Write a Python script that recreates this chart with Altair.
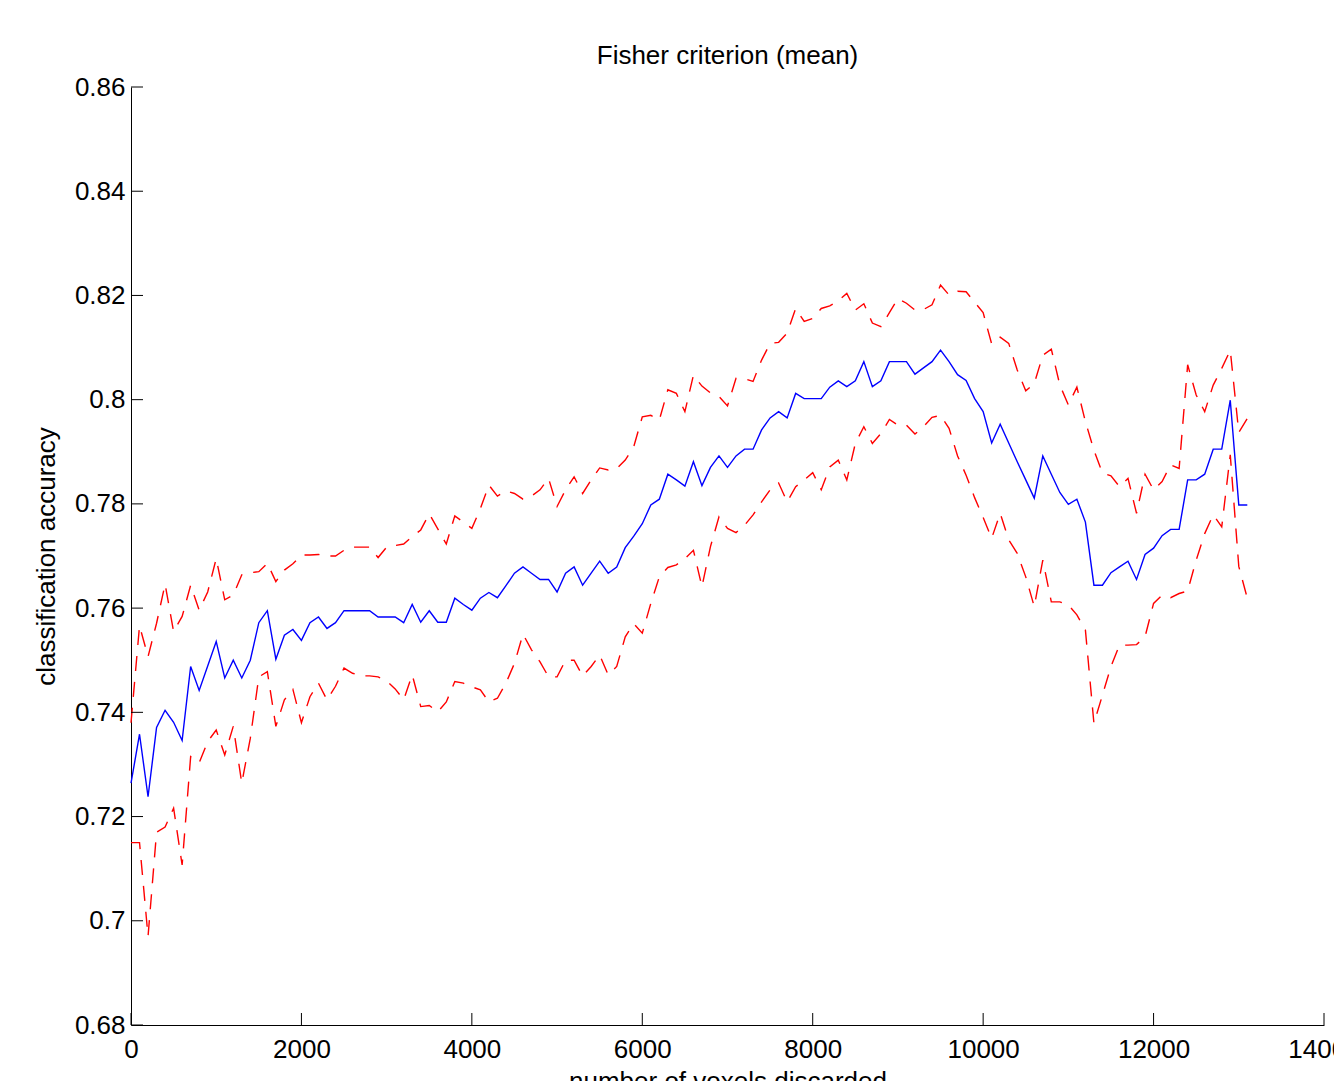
import altair as alt
import pandas as pd

# number of voxels discarded (sampling grid)
voxels = [
    0, 100, 200, 300, 400, 500, 600, 700, 800, 900,
    1000, 1100, 1200, 1300, 1400, 1500, 1600, 1700, 1800, 1900,
    2000, 2100, 2200, 2300, 2400, 2500, 2600, 2700, 2800, 2900,
    3000, 3100, 3200, 3300, 3400, 3500, 3600, 3700, 3800, 3900,
    4000, 4100, 4200, 4300, 4400, 4500, 4600, 4700, 4800, 4900,
    5000, 5100, 5200, 5300, 5400, 5500, 5600, 5700, 5800, 5900,
    6000, 6100, 6200, 6300, 6400, 6500, 6600, 6700, 6800, 6900,
    7000, 7100, 7200, 7300, 7400, 7500, 7600, 7700, 7800, 7900,
    8000, 8100, 8200, 8300, 8400, 8500, 8600, 8700, 8800, 8900,
    9000, 9100, 9200, 9300, 9400, 9500, 9600, 9700, 9800, 9900,
    10000, 10100, 10200, 10300, 10400, 10500, 10600, 10700, 10800, 10900,
    11000, 11100, 11200, 11300, 11400, 11500, 11600, 11700, 11800, 11900,
    12000, 12100, 12200, 12300, 12400, 12500, 12600, 12700, 12800, 12900,
    13000, 13100,
]

mean_acc = [
    0.7264, 0.7358, 0.7238, 0.7371, 0.7404, 0.7381, 0.7346, 0.7488, 0.7442, 0.7489,
    0.7536, 0.7466, 0.7500, 0.7466, 0.7500, 0.7572, 0.7595, 0.7502, 0.7548, 0.7559,
    0.7538, 0.7572, 0.7583, 0.7561, 0.7572, 0.7595, 0.7595, 0.7595, 0.7595, 0.7583,
    0.7583, 0.7583, 0.7572, 0.7607, 0.7573, 0.7595, 0.7573, 0.7573, 0.7619, 0.7607,
    0.7596, 0.7619, 0.7630, 0.7620, 0.7643, 0.7667, 0.7679, 0.7667, 0.7655, 0.7655,
    0.7631, 0.7667, 0.7679, 0.7644, 0.7667, 0.7690, 0.7667, 0.7679, 0.7716, 0.7738,
    0.7762, 0.7798, 0.7809, 0.7857, 0.7846, 0.7834, 0.7881, 0.7835, 0.7870, 0.7892,
    0.7870, 0.7892, 0.7905, 0.7905, 0.7942, 0.7965, 0.7977, 0.7965, 0.8012, 0.8002,
    0.8002, 0.8002, 0.8024, 0.8036, 0.8025, 0.8036, 0.8073, 0.8025, 0.8036, 0.8073,
    0.8073, 0.8073, 0.8049, 0.8061, 0.8073, 0.8095, 0.8073, 0.8048, 0.8037, 0.8002,
    0.7977, 0.7917, 0.7953, 0.7917, 0.7881, 0.7846, 0.7811, 0.7892, 0.7857, 0.7822,
    0.7799, 0.7809, 0.7765, 0.7644, 0.7644, 0.7668, 0.7679, 0.7690, 0.7655, 0.7703,
    0.7715, 0.7739, 0.7751, 0.7751, 0.7846, 0.7846, 0.7857, 0.7905, 0.7905, 0.7999,
    0.7798, 0.7798,
]

upper_acc = [
    0.7380, 0.7566, 0.7507, 0.7571, 0.7646, 0.7555, 0.7584, 0.7644, 0.7596, 0.7631,
    0.7695, 0.7616, 0.7625, 0.7664, 0.7668, 0.7670, 0.7686, 0.7651, 0.7673, 0.7685,
    0.7702, 0.7702, 0.7703, 0.7700, 0.7700, 0.7711, 0.7717, 0.7717, 0.7717, 0.7697,
    0.7717, 0.7720, 0.7723, 0.7737, 0.7750, 0.7781, 0.7752, 0.7723, 0.7777, 0.7765,
    0.7753, 0.7791, 0.7836, 0.7815, 0.7825, 0.7820, 0.7809, 0.7815, 0.7827, 0.7849,
    0.7795, 0.7827, 0.7852, 0.7820, 0.7846, 0.7869, 0.7865, 0.7868, 0.7884, 0.7910,
    0.7967, 0.7970, 0.7961, 0.8019, 0.8012, 0.7977, 0.8047, 0.8026, 0.8013, 0.8006,
    0.7988, 0.8041, 0.8040, 0.8035, 0.8076, 0.8108, 0.8110, 0.8128, 0.8175, 0.8150,
    0.8156, 0.8175, 0.8180, 0.8190, 0.8204, 0.8172, 0.8184, 0.8147, 0.8140, 0.8167,
    0.8194, 0.8185, 0.8172, 0.8173, 0.8182, 0.8220, 0.8201, 0.8208, 0.8207, 0.8187,
    0.8167, 0.8107, 0.8120, 0.8108, 0.8057, 0.8017, 0.8031, 0.8085, 0.8097, 0.8028,
    0.7990, 0.8024, 0.7958, 0.7903, 0.7859, 0.7854, 0.7833, 0.7849, 0.7782, 0.7857,
    0.7827, 0.7843, 0.7875, 0.7868, 0.8067, 0.8009, 0.7977, 0.8028, 0.8060, 0.8095,
    0.7937, 0.7964,
]

lower_acc = [
    0.7150, 0.7150, 0.6970, 0.7170, 0.7180, 0.7216, 0.7107, 0.7315, 0.7303, 0.7344,
    0.7366, 0.7318, 0.7373, 0.7264, 0.7350, 0.7468, 0.7478, 0.7373, 0.7424, 0.7444,
    0.7380, 0.7430, 0.7456, 0.7424, 0.7450, 0.7485, 0.7475, 0.7470, 0.7470, 0.7468,
    0.7460, 0.7445, 0.7424, 0.7472, 0.7411, 0.7413, 0.7401, 0.7420, 0.7459, 0.7456,
    0.7449, 0.7443, 0.7420, 0.7427, 0.7456, 0.7494, 0.7550, 0.7520, 0.7497, 0.7468,
    0.7468, 0.7500, 0.7500, 0.7470, 0.7488, 0.7510, 0.7472, 0.7488, 0.7545, 0.7570,
    0.7552, 0.7609, 0.7660, 0.7678, 0.7683, 0.7695, 0.7711, 0.7641, 0.7718, 0.7775,
    0.7753, 0.7745, 0.7759, 0.7779, 0.7804, 0.7827, 0.7840, 0.7804, 0.7833, 0.7846,
    0.7860, 0.7827, 0.7871, 0.7884, 0.7846, 0.7916, 0.7948, 0.7916, 0.7935, 0.7962,
    0.7951, 0.7951, 0.7934, 0.7948, 0.7966, 0.7970, 0.7945, 0.7892, 0.7855, 0.7812,
    0.7774, 0.7734, 0.7782, 0.7731, 0.7705, 0.7660, 0.7603, 0.7692, 0.7612, 0.7612,
    0.7606, 0.7587, 0.7558, 0.7379, 0.7433, 0.7488, 0.7529, 0.7529, 0.7530, 0.7545,
    0.7609, 0.7625, 0.7620, 0.7628, 0.7633, 0.7692, 0.7743, 0.7779, 0.7756, 0.7894,
    0.7680, 0.7619,
]

x_ticks = [0, 2000, 4000, 6000, 8000, 10000, 12000, 14000]
y_ticks = [0.68, 0.70, 0.72, 0.74, 0.76, 0.78, 0.80, 0.82, 0.84, 0.86]

W, H = 1193, 938
FONT = "Liberation Sans"

df = pd.DataFrame({"x": voxels, "mean": mean_acc, "upper": upper_acc, "lower": lower_acc})
xt = pd.DataFrame({"x": x_ticks})
yt = pd.DataFrame({"y": y_ticks})

xscale = alt.Scale(domain=[0, 14000], nice=False, zero=False)
yscale = alt.Scale(domain=[0.68, 0.86], nice=False, zero=False)

x_axis = alt.Axis(
    values=x_ticks, format="d", ticks=False, grid=False,
    domainColor="black", domainWidth=1,
    labelFont=FONT, labelFontSize=26, labelColor="black", labelPadding=11,
    labelFlush=False, labelOverlap=False,
    title="number of voxels discarded", titleFont=FONT, titleFontSize=26,
    titleFontWeight="normal", titleColor="black", titlePadding=6,
)
y_axis = alt.Axis(
    values=y_ticks, format=".2~f", ticks=False, grid=False,
    domainColor="black", domainWidth=1,
    labelFont=FONT, labelFontSize=26, labelColor="black", labelPadding=6,
    labelFlush=False, labelOverlap=False, labelBaseline="middle",
    title="classification accuracy", titleFont=FONT, titleFontSize=26,
    titleFontWeight="normal", titleColor="black", titlePadding=15,
)

base = alt.Chart(df)

mean_line = base.mark_line(color="#0000ff", strokeWidth=1.4).encode(
    x=alt.X("x:Q", scale=xscale, axis=x_axis),
    y=alt.Y("mean:Q", scale=yscale, axis=y_axis),
)
upper_line = base.mark_line(color="#ff0000", strokeWidth=1.4, strokeDash=[15, 11]).encode(
    x=alt.X("x:Q", scale=xscale),
    y=alt.Y("upper:Q", scale=yscale),
)
lower_line = base.mark_line(color="#ff0000", strokeWidth=1.4, strokeDash=[15, 11]).encode(
    x=alt.X("x:Q", scale=xscale),
    y=alt.Y("lower:Q", scale=yscale),
)

x_tick_marks = alt.Chart(xt).mark_rule(color="black", strokeWidth=1).encode(
    x=alt.X("x:Q", scale=xscale),
    y=alt.value(H),
    y2=alt.value(H - 12),
)
y_tick_marks = alt.Chart(yt).mark_rule(color="black", strokeWidth=1).encode(
    y=alt.Y("y:Q", scale=yscale),
    x=alt.value(0),
    x2=alt.value(12),
)

chart = (
    alt.layer(upper_line, lower_line, mean_line, x_tick_marks, y_tick_marks)
    .properties(
        width=W,
        height=H,
        background="white",
        title=alt.TitleParams(
            "Fisher criterion (mean)", font=FONT, fontSize=26, fontWeight="normal",
            color="black", anchor="middle", baseline="alphabetic", offset=23, dy=39,
        ),
        autosize=alt.AutoSizeParams(type="none"),
        padding={"left": 131, "top": 87, "right": 10, "bottom": 56},
    )
    .configure_view(strokeWidth=0, stroke="transparent")
)

chart.save("out.html", embed_options={"renderer": "svg", "actions": False})
